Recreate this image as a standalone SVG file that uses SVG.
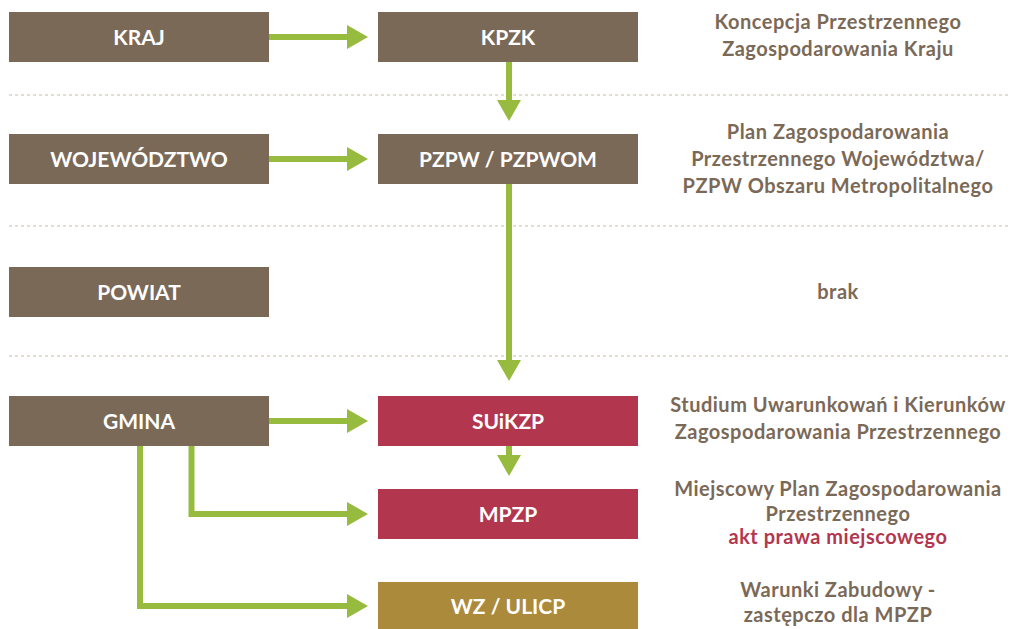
<svg xmlns="http://www.w3.org/2000/svg" width="1010" height="629" viewBox="0 0 1010 629">
<style>
.box-brown{fill:#7B6957}
.box-red{fill:#B3364F}
.box-gold{fill:#AB8A3C}
.lbl{font-family:Lato,"Open Sans",sans-serif;font-weight:700;font-size:21px;fill:#fff;text-anchor:middle}
.desc{font-family:Lato,"Open Sans",sans-serif;font-weight:700;font-size:20px;letter-spacing:0.5px;fill:#7B6957;text-anchor:middle}
.desc .red{fill:#B3364F}
.sep{stroke:#DCD2C6;stroke-width:1.5;stroke-dasharray:3 3;fill:none}
.conn{stroke:#96BB3E;stroke-width:6;fill:none}
</style>
<defs>
<marker id="ah" viewBox="0 0 21 24" refX="0" refY="12" markerWidth="21" markerHeight="24" markerUnits="userSpaceOnUse" orient="auto">
<path d="M0,0 L21,12 L0,24 Z" fill="#96BB3E"/>
</marker>
</defs>
<g id="separators">
<line class="sep" x1="9" y1="95" x2="1010" y2="95"/>
<line class="sep" x1="9" y1="226" x2="1010" y2="226"/>
<line class="sep" x1="9" y1="356" x2="1010" y2="356"/>
</g>
<g id="connectors">
<path class="conn" d="M269,37 H347" marker-end="url(#ah)"/>
<path class="conn" d="M269,159 H347" marker-end="url(#ah)"/>
<path class="conn" d="M269,421 H347" marker-end="url(#ah)"/>
<path class="conn" d="M191.5,446 V514 H347" marker-end="url(#ah)"/>
<path class="conn" d="M140,446 V606 H347" marker-end="url(#ah)"/>
<path class="conn" d="M509,62 V100" marker-end="url(#ah)"/>
<path class="conn" d="M509,184 V360" marker-end="url(#ah)"/>
<path class="conn" d="M509,446 V455" marker-end="url(#ah)"/>
</g>
<g id="kraj"><rect class="box-brown" x="9" y="12" width="260" height="50"/><text class="lbl" x="139" y="44.5">KRAJ</text></g>
<g id="kpzk"><rect class="box-brown" x="378" y="12" width="260" height="50"/><text class="lbl" x="508" y="44.5">KPZK</text></g>
<g id="desc-kpzk"><text class="desc" x="838" y="29">Koncepcja Przestrzennego</text><text class="desc" x="838" y="56">Zagospodarowania Kraju</text></g>
<g id="wojewodztwo"><rect class="box-brown" x="9" y="134" width="260" height="50"/><text class="lbl" x="139" y="166.5">WOJEWÓDZTWO</text></g>
<g id="pzpw"><rect class="box-brown" x="378" y="134" width="260" height="50"/><text class="lbl" x="508" y="166.5">PZPW / PZPWOM</text></g>
<g id="desc-pzpw"><text class="desc" x="838" y="139">Plan Zagospodarowania</text><text class="desc" x="838" y="166">Przestrzennego Województwa/</text><text class="desc" x="838" y="193">PZPW Obszaru Metropolitalnego</text></g>
<g id="powiat"><rect class="box-brown" x="9" y="267" width="260" height="50"/><text class="lbl" x="139" y="299.5">POWIAT</text></g>
<g id="desc-powiat"><text class="desc" x="838" y="299">brak</text></g>
<g id="gmina"><rect class="box-brown" x="9" y="396" width="260" height="50"/><text class="lbl" x="139" y="428.5">GMINA</text></g>
<g id="suikzp"><rect class="box-red" x="378" y="396" width="260" height="50"/><text class="lbl" x="508" y="428.5">SUiKZP</text></g>
<g id="desc-suikzp"><text class="desc" x="838" y="412">Studium Uwarunkowań i Kierunków</text><text class="desc" x="838" y="439">Zagospodarowania Przestrzennego</text></g>
<g id="mpzp"><rect class="box-red" x="378" y="489" width="260" height="50"/><text class="lbl" x="508" y="521.5">MPZP</text></g>
<g id="desc-mpzp"><text class="desc" x="838" y="496">Miejscowy Plan Zagospodarowania</text><text class="desc" x="838" y="521">Przestrzennego</text><text class="desc" x="838" y="544"><tspan class="red">akt prawa miejscowego</tspan></text></g>
<g id="wz"><rect class="box-gold" x="378" y="582" width="260" height="48"/><text class="lbl" x="508" y="613.5">WZ / ULICP</text></g>
<g id="desc-wz"><text class="desc" x="838" y="597">Warunki Zabudowy -</text><text class="desc" x="838" y="622">zastępczo dla MPZP</text></g>
</svg>
